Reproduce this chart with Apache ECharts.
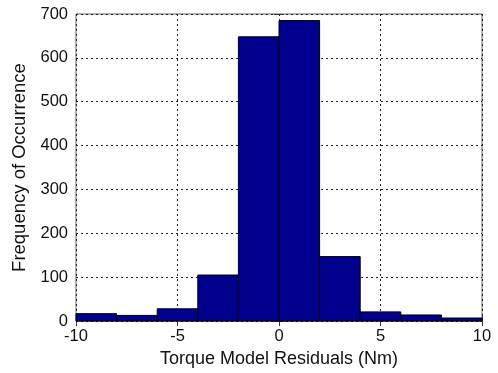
<!DOCTYPE html>
<html>
<head>
<meta charset="utf-8">
<script src="https://cdn.jsdelivr.net/npm/echarts@6/dist/echarts.min.js"></script>
<style>
  html, body { margin: 0; padding: 0; background: #fff; }
  #chart { width: 498px; height: 373px; }
</style>
</head>
<body>
<div id="chart"></div>
<script>
// Histogram of torque model residuals: bin edges and counts per bin
const binStarts = [-10, -8, -6, -4, -2, 0, 2, 4, 6, 8];
const binWidth = 2;
const counts = [17, 13, 28, 105, 648, 685, 147, 21, 14, 7];
const xTicks = [-10, -5, 0, 5, 10];
const yTicks = [0, 100, 200, 300, 400, 500, 600, 700];

const font = 'Liberation Sans, Arial, sans-serif';
const chart = echarts.init(document.getElementById('chart'));

const data = binStarts.map((s, i) => [s, s + binWidth, counts[i]]);

const tickStyle = { inside: true, length: 5, lineStyle: { color: '#333', width: 1 } };
const gridDash = { show: true, lineStyle: { color: '#222', type: [2, 3], width: 1 } };

chart.setOption({
  animation: false,
  grid: {
    left: 76, right: 16, top: 14, bottom: 47,
    show: true, borderColor: '#666', borderWidth: 1, backgroundColor: '#fff'
  },
  xAxis: [{
    type: 'value', min: xTicks[0], max: xTicks[xTicks.length - 1], interval: 5,
    name: 'Torque Model Residuals (Nm)', nameLocation: 'middle', nameGap: 26,
    nameTextStyle: { fontFamily: font, fontSize: 18, color: '#111' },
    axisLine: { show: false },
    axisTick: tickStyle,
    axisLabel: { fontFamily: font, fontSize: 16.5, color: '#111', margin: 7 },
    splitLine: gridDash
  }, {
    type: 'value', position: 'top', min: -10, max: 10, interval: 5,
    axisLine: { show: false }, axisTick: tickStyle,
    axisLabel: { show: false }, splitLine: { show: false }
  }],
  yAxis: [{
    type: 'value', min: yTicks[0], max: yTicks[yTicks.length - 1], interval: 100,
    name: 'Frequency of Occurrence', nameLocation: 'middle', nameGap: 46,
    nameTextStyle: { fontFamily: font, fontSize: 18.5, color: '#111' },
    axisLine: { show: false },
    axisTick: tickStyle,
    axisLabel: { fontFamily: font, fontSize: 16.5, color: '#111', margin: 8 },
    splitLine: gridDash
  }, {
    type: 'value', position: 'right', min: 0, max: 700, interval: 100,
    axisLine: { show: false }, axisTick: tickStyle,
    axisLabel: { show: false }, splitLine: { show: false }
  }],
  series: [{
    type: 'custom',
    xAxisIndex: 0, yAxisIndex: 0,
    data: data,
    encode: { x: [0, 1], y: 2 },
    renderItem: function (params, api) {
      const p0 = api.coord([api.value(0), api.value(2)]);
      const p1 = api.coord([api.value(1), 0]);
      return {
        type: 'rect',
        shape: { x: p0[0], y: p0[1], width: p1[0] - p0[0], height: p1[1] - p0[1] },
        style: { fill: '#00008C', stroke: '#000', lineWidth: 1 }
      };
    }
  }]
});
</script>
</body>
</html>
